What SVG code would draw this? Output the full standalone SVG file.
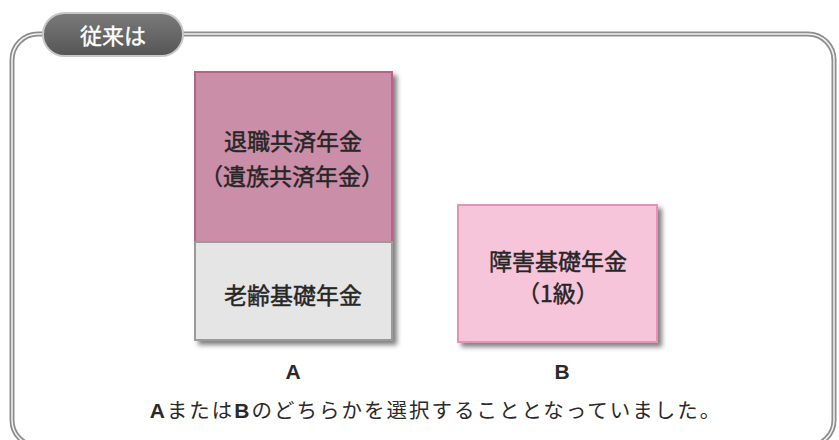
<svg xmlns="http://www.w3.org/2000/svg" width="839" height="440" viewBox="0 0 839 440">
<defs>
<filter id="sh" x="-10%" y="-10%" width="130%" height="130%">
<feGaussianBlur in="SourceAlpha" stdDeviation="2.5"/>
<feOffset dx="4" dy="4" result="b"/>
<feComponentTransfer><feFuncA type="linear" slope="0.5"/></feComponentTransfer>
<feMerge><feMergeNode/><feMergeNode in="SourceGraphic"/></feMerge>
</filter>
<linearGradient id="pill" x1="0" y1="0" x2="0" y2="1">
<stop offset="0" stop-color="#7a7a7a"/>
<stop offset="1" stop-color="#555"/>
</linearGradient>
</defs>
<style>
.jp{font-family:"Noto Sans CJK JP","Noto Sans",sans-serif;fill:#262626;text-anchor:middle;stroke:#262626;stroke-width:0.45}
.lt{font-family:"Liberation Sans",Arial,sans-serif;font-weight:bold;fill:#2a2a2a;text-anchor:middle}
.nt{font-family:"Noto Sans CJK JP","Noto Sans",sans-serif;fill:#2a2a2a;text-anchor:middle;letter-spacing:2px}
</style>
<rect width="839" height="440" fill="#fff"/>
<g id="frame">
<rect x="12" y="34" width="822" height="412" rx="26" fill="none" stroke="#8d8d8d" stroke-width="5"/>
<rect x="12" y="34" width="822" height="412" rx="26" fill="none" stroke="#f2f2f2" stroke-width="1.5"/>
</g>
<g id="title">
<rect x="43" y="13" width="140" height="43" rx="21.5" fill="url(#pill)" stroke="#c8c8c8" stroke-width="2"/>
<text x="113" y="44" font-size="22" style="font-family:'Noto Sans CJK JP',sans-serif;fill:#fff;stroke:#fff;stroke-width:0.4;text-anchor:middle">従来は</text>
</g>
<g id="boxA" filter="url(#sh)">
<rect x="195" y="72" width="197" height="170" fill="#cb8ea8" stroke="#b56488" stroke-width="2"/>
<rect x="195" y="242" width="197" height="98" fill="#e5e5e5" stroke="#9a9a9a" stroke-width="2"/>
</g>
<g id="textA">
<text class="jp" x="293" y="150" font-size="23">退職共済年金</text>
<text class="jp" x="292" y="185" font-size="23">（遺族共済年金）</text>
<text class="jp" x="293" y="304" font-size="23">老齢基礎年金</text>
<text class="lt" x="293" y="379" font-size="21">A</text>
</g>
<g id="boxB">
<rect x="458" y="205" width="199" height="137" fill="#f6c5d9" stroke="#e691b6" stroke-width="2" filter="url(#sh)"/>
<text class="jp" x="558" y="270" font-size="23">障害基礎年金</text>
<text class="jp" x="558" y="302" font-size="23">（1級）</text>
<text class="lt" x="562" y="379" font-size="21">B</text>
</g>
<g id="note">
<text class="nt" x="436" y="418" font-size="20.5"><tspan style="font-family:'Liberation Sans',sans-serif;font-weight:bold;font-size:21px">A</tspan>または<tspan style="font-family:'Liberation Sans',sans-serif;font-weight:bold;font-size:21px">B</tspan>のどちらかを選択することとなっていました。</text>
</g>
</svg>
